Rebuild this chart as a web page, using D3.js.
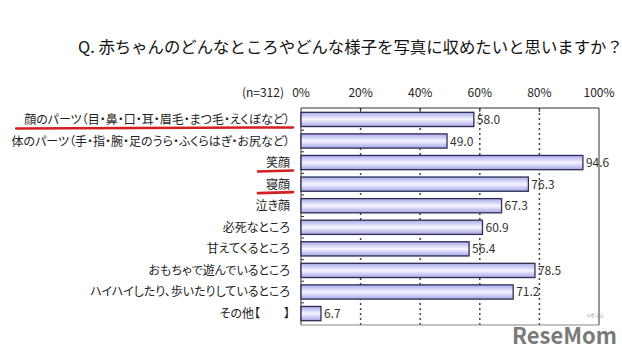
<!DOCTYPE html>
<html>
<head>
<meta charset="utf-8">
<script src="https://cdn.jsdelivr.net/npm/d3@7"></script>
<style>
  body { margin: 0; background: #fff; }
  text { font-family: "Noto Sans CJK JP", sans-serif; }
</style>
</head>
<body>
<svg width="622" height="353"></svg>
<script>
// categories (top to bottom) and their percentages
const categories = [
  "顔のパーツ（目・鼻・口・耳・眉毛・まつ毛・えくぼなど）",
  "体のパーツ（手・指・腕・足のうら・ふくらはぎ・お尻など）",
  "笑顔",
  "寝顔",
  "泣き顔",
  "必死なところ",
  "甘えてくるところ",
  "おもちゃで遊んでいるところ",
  "ハイハイしたり、歩いたりしているところ",
  "その他【　　】"
];
const values = [58.0, 49.0, 94.6, 76.3, 67.3, 60.9, 56.4, 78.5, 71.2, 6.7];
const highlighted = [0, 2, 3]; // red underlined items
const ticks = [0, 20, 40, 60, 80, 100];

const svg = d3.select('svg');
const plotL = 301, plotR = 599, plotT = 108, plotB = 325;

const x = d3.scaleLinear().domain([0, 100]).range([plotL, plotR]);
const y = d3.scaleBand().domain(categories).range([plotT, plotB]).paddingInner(0.34).paddingOuter(0.2);

// gradient for bars
const grad = svg.append('defs').append('linearGradient')
  .attr('id', 'barGrad').attr('x1', 0).attr('y1', 0).attr('x2', 0).attr('y2', 1);
grad.append('stop').attr('offset', '0%').attr('stop-color', '#a9a9ec');
grad.append('stop').attr('offset', '50%').attr('stop-color', '#f6f6ff');
grad.append('stop').attr('offset', '100%').attr('stop-color', '#a4a4e6');

// title
svg.append('text')
  .attr('x', 78).attr('y', 53)
  .attr('font-size', 16.4).attr('fill', '#111')
  .text('Q. 赤ちゃんのどんなところやどんな様子を写真に収めたいと思いますか？');

// top tick labels
svg.append('g').selectAll('text').data(ticks).enter().append('text')
  .attr('x', d => x(d)).attr('y', 97)
  .attr('text-anchor', 'middle').attr('font-size', 12).attr('fill', '#222')
  .text(d => d + '%');

svg.append('text')
  .attr('x', 284).attr('y', 97).attr('text-anchor', 'end')
  .attr('font-size', 12).attr('fill', '#222')
  .text('(n=312)');

// dotted gridlines
svg.append('g').selectAll('line').data([20, 40, 60, 80]).enter().append('line')
  .attr('x1', d => x(d)).attr('x2', d => x(d))
  .attr('y1', plotT).attr('y2', plotB)
  .attr('stroke', '#444').attr('stroke-width', 1.5)
  .attr('stroke-dasharray', '2,3');

// box
svg.append('line').attr('x1', plotL).attr('x2', plotL).attr('y1', plotT).attr('y2', plotB).attr('stroke', '#333');
svg.append('line').attr('x1', plotL).attr('x2', plotR).attr('y1', plotT).attr('y2', plotT).attr('stroke', '#333');
svg.append('line').attr('x1', plotR).attr('x2', plotR).attr('y1', plotT).attr('y2', plotB).attr('stroke', '#333');
svg.append('line').attr('x1', plotL).attr('x2', plotR).attr('y1', plotB).attr('y2', plotB).attr('stroke', '#888');

// ticks on top edge
svg.append('g').selectAll('line').data([20, 40, 60, 80]).enter().append('line')
  .attr('x1', d => x(d)).attr('x2', d => x(d))
  .attr('y1', plotT).attr('y2', plotT + 4)
  .attr('stroke', '#333');

// category boundary ticks on left edge
const step = y.step();
svg.append('g').selectAll('line').data(categories.slice(1)).enter().append('line')
  .attr('x1', plotL).attr('x2', plotL + 3)
  .attr('y1', d => y(d) - (step - y.bandwidth()) / 2)
  .attr('y2', d => y(d) - (step - y.bandwidth()) / 2)
  .attr('stroke', '#333');

// bars
svg.append('g').selectAll('rect').data(values).enter().append('rect')
  .attr('x', x(0))
  .attr('y', (d, i) => y(categories[i]))
  .attr('width', d => x(d) - x(0))
  .attr('height', y.bandwidth())
  .attr('fill', 'url(#barGrad)')
  .attr('stroke', '#2e2e55').attr('stroke-width', 1.3);

// value labels
svg.append('g').selectAll('text').data(values).enter().append('text')
  .attr('x', d => x(d) + 3)
  .attr('y', (d, i) => y(categories[i]) + y.bandwidth() / 2 + 4.5)
  .attr('font-size', 12).attr('fill', '#333')
  .text(d => d.toFixed(1));

// category labels
const labels = svg.append('g').selectAll('text').data(categories).enter().append('text')
  .attr('x', 290)
  .attr('y', d => y(d) + y.bandwidth() / 2 + 4.5)
  .attr('text-anchor', 'end')
  .attr('font-size', 12).attr('fill', '#222')
  .style('font-feature-settings', '"palt"')
  .text(d => d);

// red underlines under the highlighted labels
highlighted.forEach(i => {
  const c = categories[i];
  const w = labels.filter(d => d === c).node().getComputedTextLength();
  svg.append('line')
    .attr('x1', 290 - w - 8).attr('x2', 293)
    .attr('y1', y(c) + y.bandwidth() / 2 + 9)
    .attr('y2', y(c) + y.bandwidth() / 2 + 8)
    .attr('stroke', '#d41f1f').attr('stroke-width', 2.6)
    .attr('stroke-linecap', 'round');
});

// watermark
svg.append('text')
  .attr('x', 512).attr('y', 344)
  .attr('font-family', '"DejaVu Sans Condensed", "DejaVu Sans", sans-serif')
  .attr('font-weight', 'bold').attr('font-size', 22).attr('fill', '#7a7a7a')
  .text('ReseMom');
svg.append('text')
  .attr('x', 604).attr('y', 317).attr('text-anchor', 'end')
  .attr('font-size', 4.5).attr('fill', '#888')
  .text('リセマム');
</script>
</body>
</html>
